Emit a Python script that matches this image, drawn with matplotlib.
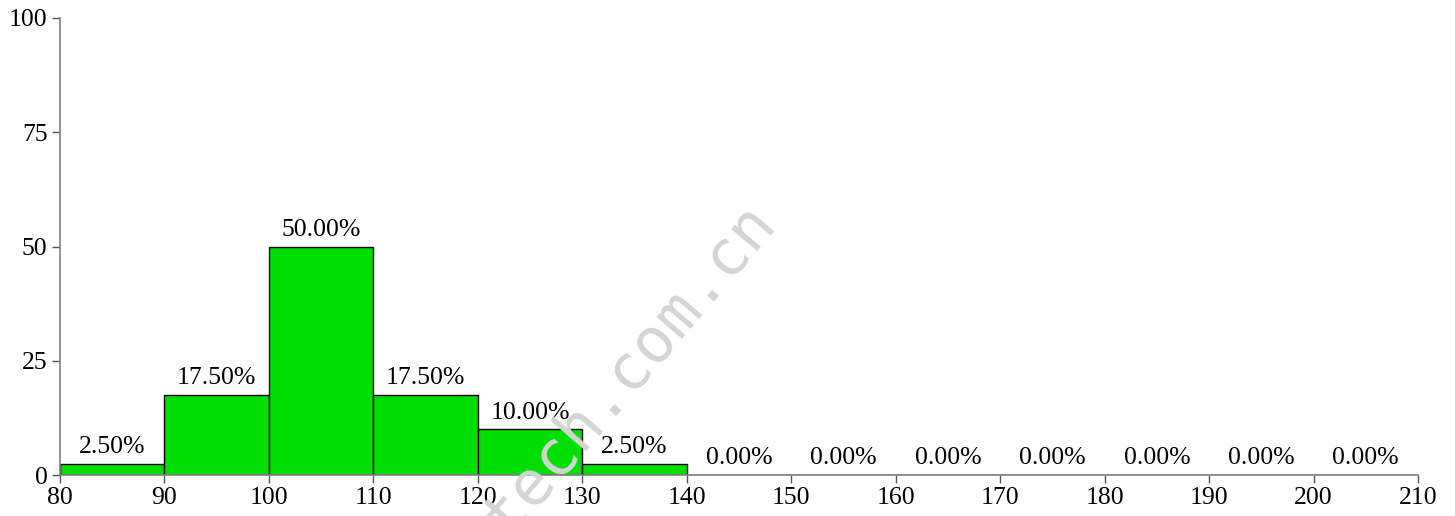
import matplotlib
matplotlib.use("Agg")
import matplotlib.pyplot as plt

# Histogram data (bins of width 10)
bin_edges = [80, 90, 100, 110, 120, 130, 140, 150, 160, 170, 180, 190, 200, 210]
percent = [2.5, 17.5, 50.0, 17.5, 10.0, 2.5, 0.0, 0.0, 0.0, 0.0, 0.0, 0.0, 0.0]
y_ticks = [0, 25, 50, 75, 100]
watermark = "tech.com.cn"

plt.rcParams["font.family"] = ["Liberation Serif", "DejaVu Serif"]

W, H = 1455, 516
fig = plt.figure(figsize=(W / 100, H / 100), dpi=100)
ax = fig.add_axes([60 / W, 1 - 475 / H, (1418 - 60) / W, (475 - 18) / H])

lefts = bin_edges[:-1]
widths = [b - a for a, b in zip(bin_edges[:-1], bin_edges[1:])]
bars = ax.bar(lefts, percent, width=widths, align="edge",
              color="#00dd00", edgecolor="black", linewidth=1.0, zorder=2)

for left, w, p in zip(lefts, widths, percent):
    ax.annotate(f"{p:.2f}%", xy=(left + w / 2, p), xytext=(0, 4),
                textcoords="offset points", ha="center", va="bottom",
                fontsize=18.5, zorder=3)

ax.set_xlim(bin_edges[0], bin_edges[-1])
ax.set_ylim(0, 100)
ax.set_xticks(bin_edges)
ax.set_yticks(y_ticks)
ax.tick_params(axis="both", labelsize=18.5, length=6, width=1,
               color="#555555", pad=3)

for side in ("top", "right"):
    ax.spines[side].set_visible(False)
for side in ("left", "bottom"):
    ax.spines[side].set_color("#808080")
    ax.spines[side].set_linewidth(1.2)

# watermark (cut off at the bottom edge, as in the source image)
fig.text(508 / W, 1 - 538 / H, watermark, rotation=49.5,
         rotation_mode="anchor", ha="left", va="baseline",
         fontsize=45, color="#d4d4d4", family="DejaVu Sans Mono",
         zorder=10)

fig.savefig("out.png", dpi=100)
